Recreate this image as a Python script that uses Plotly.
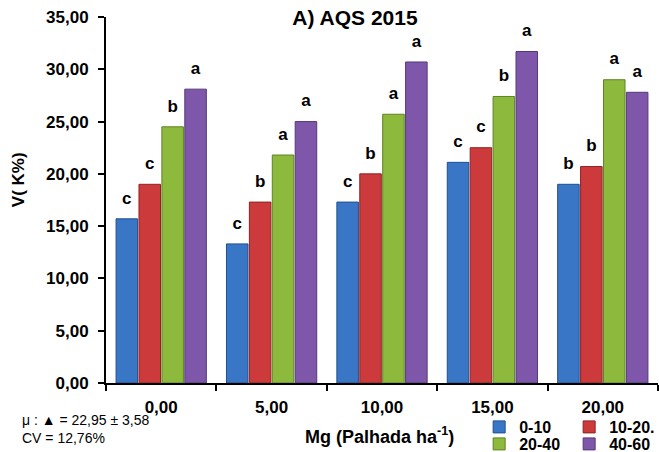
import plotly.graph_objects as go

# -- dados --
doses = ["0,00", "5,00", "10,00", "15,00", "20,00"]
camadas = ["0-10", "10-20.", "20-40", "40-60"]
v_0_10 = [15.7, 13.3, 17.3, 21.1, 19.0]
v_10_20 = [19.0, 17.3, 20.0, 22.5, 20.7]
v_20_40 = [24.5, 21.8, 25.7, 27.4, 29.0]
v_40_60 = [28.1, 25.0, 30.7, 31.7, 27.8]
let_0_10 = ["c", "c", "c", "c", "b"]
let_10_20 = ["c", "b", "b", "c", "b"]
let_20_40 = ["b", "a", "a", "b", "a"]
let_40_60 = ["a", "a", "a", "a", "a"]
y_ticks = [0, 5, 10, 15, 20, 25, 30, 35]

CORES = ["#3A76C6", "#CC3A3C", "#8DBA3C", "#7E57AA"]
BORDAS = ["#1F4F8F", "#8E2224", "#5E8224", "#553878"]
FONTE = "Liberation Sans, Arial, sans-serif"

series = [v_0_10, v_10_20, v_20_40, v_40_60]
letras = [let_0_10, let_10_20, let_20_40, let_40_60]

fig = go.Figure()
for i, (nome, vals) in enumerate(zip(camadas, series)):
    fig.add_trace(go.Bar(
        x=doses, y=vals, name=nome,
        marker=dict(color=CORES[i], line=dict(color=BORDAS[i], width=1)),
        legend="legend" if i < 2 else "legend2",
    ))

# letras de significancia acima das barras
for i, (vals, lets) in enumerate(zip(series, letras)):
    fig.add_trace(go.Scatter(
        x=doses, y=vals, text=lets, mode="markers+text",
        textposition="top center",
        marker=dict(size=16, opacity=0),
        textfont=dict(family=FONTE, size=17, color="black", weight="bold"),
        showlegend=False, cliponaxis=False, hoverinfo="skip",
    ))

leg = dict(
    orientation="h", xanchor="left", yanchor="top", yref="container",
    font=dict(family=FONTE, size=16, color="black", weight="bold"),
    itemwidth=30, entrywidth=45, bgcolor="rgba(0,0,0,0)",
    tracegroupgap=0,
)

fig.update_layout(
    width=659, height=452,
    margin=dict(l=106, r=1, t=17, b=69, autoexpand=False),
    plot_bgcolor="white", paper_bgcolor="white",
    font=dict(family=FONTE, color="black"),
    barmode="group", bargap=0.17, bargroupgap=0.06,
    scattermode="group", scattergap=0.17,
    showlegend=True,
    legend=dict(leg, x=0.676, y=1 - 410 / 452),
    legend2=dict(leg, x=0.676, y=1 - 427 / 452),
    title=dict(text="<b>A) AQS 2015</b>", x=355 / 659, xanchor="center",
               y=1 - 18 / 452, yanchor="middle",
               font=dict(family=FONTE, size=21, color="black")),
    xaxis=dict(
        showline=True, linecolor="black", linewidth=2, automargin=False,
        ticks="outside", ticklen=6, tickwidth=2, tickcolor="black",
        tickson="boundaries", ticklabelstandoff=8,
        tickfont=dict(family=FONTE, size=17, color="black", weight="bold"),
    ),
    yaxis=dict(
        range=[0, 35], tickvals=y_ticks, automargin=False,
        ticktext=["{:.2f}".format(t).replace(".", ",") for t in y_ticks],
        showline=True, linecolor="black", linewidth=2,
        ticks="outside", ticklen=6, tickwidth=2, tickcolor="black",
        ticklabelstandoff=6,
        showgrid=False, zeroline=False,
        tickfont=dict(family=FONTE, size=17, color="black", weight="bold"),
    ),
)

fig.add_annotation(
    text="<b>V( K%)</b>", textangle=-90, xref="paper", yref="paper",
    x=(18 - 106) / 553, y=(383 - 180) / 366, xanchor="center", yanchor="middle",
    showarrow=False,
    font=dict(family=FONTE, size=17, color="black"),
)
fig.add_annotation(
    text="<b>Mg (Palhada ha<sup>-1</sup>)</b>", xref="paper", yref="paper",
    x=(380 - 106) / 553, y=(383 - 435) / 366, xanchor="center", yanchor="middle",
    showarrow=False,
    font=dict(family=FONTE, size=18, color="black"),
)
fig.add_annotation(
    text="μ : ▲ = 22,95 ± 3,58<br>CV = 12,76%", xref="paper", yref="paper",
    x=(20 - 106) / 553, y=(383 - 429) / 366, xanchor="left", yanchor="middle",
    align="left", showarrow=False,
    font=dict(family=FONTE, size=14, color="black"),
)

# sem margem da pagina, para a figura ocupar a janela inteira
fig.write_html("out.html", config={"displayModeBar": False},
               post_script="document.body.style.margin = '0';")
